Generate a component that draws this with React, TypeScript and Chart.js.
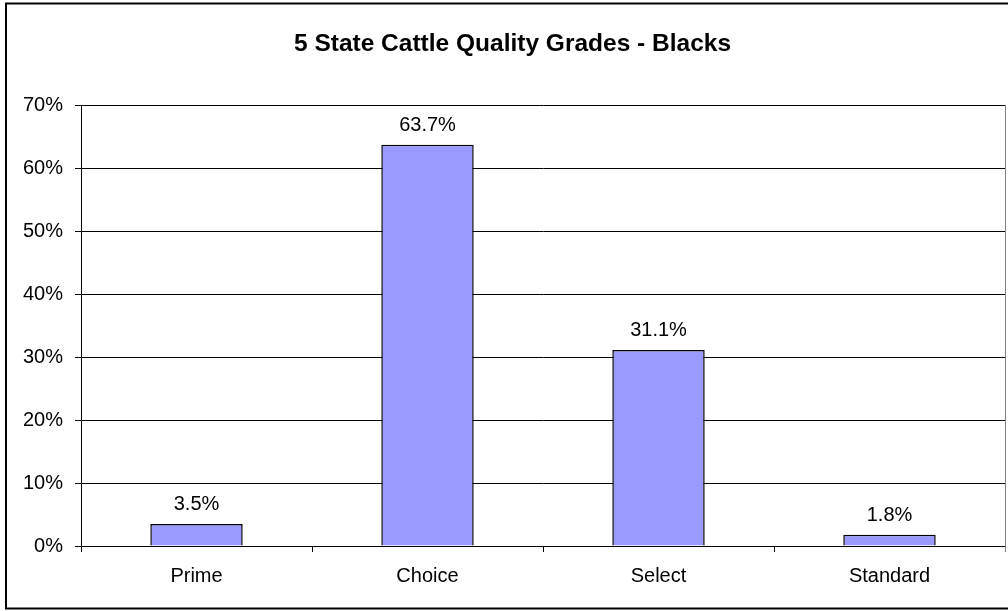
import React, { useEffect, useRef } from "react";
import { Chart, registerables } from "chart.js";

Chart.register(...registerables);

const TITLE = "5 State Cattle Quality Grades - Blacks";
const categories = ["Prime", "Choice", "Select", "Standard"];
const shares = [3.5, 63.7, 31.1, 1.8];
const yTickMax = 70;
const yTickStep = 10;

const FONT = "'Liberation Sans', Arial, sans-serif";

const frameAndLabels = {
  id: "frameAndLabels",
  afterDraw(chart: any) {
    const ctx = chart.ctx;
    const area = chart.chartArea;
    ctx.save();
    // right border of plot area (gray)
    ctx.strokeStyle = "#808080";
    ctx.lineWidth = 1;
    ctx.beginPath();
    ctx.moveTo(Math.round(area.right) + 0.5, area.top);
    ctx.lineTo(Math.round(area.right) + 0.5, area.bottom + 6);
    ctx.stroke();
    // outer chart frame
    ctx.strokeStyle = "#000";
    ctx.lineWidth = 2;
    ctx.strokeRect(6, 3.5, 1200, 605);
    // title
    ctx.fillStyle = "#000";
    ctx.font = `bold 24.5px ${FONT}`;
    ctx.textAlign = "center";
    ctx.textBaseline = "alphabetic";
    ctx.fillText(TITLE, 512.5, 51);
    // data labels
    ctx.font = `20px ${FONT}`;
    const meta = chart.getDatasetMeta(0);
    meta.data.forEach((el: any, i: number) => {
      const v = chart.data.datasets[0].data[i];
      ctx.fillText(`${Number(v).toFixed(1)}%`, el.x, el.y - 14);
    });
    ctx.restore();
  },
};

export default function App() {
  const ref = useRef<HTMLCanvasElement | null>(null);
  useEffect(() => {
    if (!ref.current) return;
    const chart = new Chart(ref.current, {
      type: "bar",
      data: {
        labels: categories,
        datasets: [
          {
            data: shares,
            backgroundColor: "#9999FF",
            borderColor: "#000",
            borderWidth: 1.5,
            categoryPercentage: 1,
            barPercentage: 0.4,
          },
        ],
      },
      options: {
        responsive: false,
        animation: false,
        devicePixelRatio: 1,
        layout: { padding: { left: 0, right: 3, top: 105, bottom: 11 } },
        plugins: {
          legend: { display: false },
          tooltip: { enabled: false },
          title: { display: false },
        },
        scales: {
          x: {
            grid: {
              drawOnChartArea: false,
              drawTicks: true,
              tickLength: 6,
              color: "#000",
            },
            border: { color: "#000", width: 1 },
            ticks: {
              color: "#000",
              font: { family: FONT, size: 20 },
              padding: 12,
              maxRotation: 0,
            },
          },
          y: {
            min: 0,
            max: yTickMax,
            afterFit(scale: any) {
              scale.width = 81;
            },
            grid: {
              color: "#000",
              tickLength: 6,
            },
            border: { color: "#000", width: 1 },
            ticks: {
              stepSize: yTickStep,
              color: "#000",
              padding: 12,
              font: { family: FONT, size: 20 },
              callback: (v: any) => `${v}%`,
            },
          },
        },
      },
      plugins: [frameAndLabels],
    });
    return () => chart.destroy();
  }, []);
  return (
    <canvas
      ref={ref}
      width={1008}
      height={611}
      style={{ position: "absolute", left: 0, top: 0, background: "#fff" }}
    />
  );
}
